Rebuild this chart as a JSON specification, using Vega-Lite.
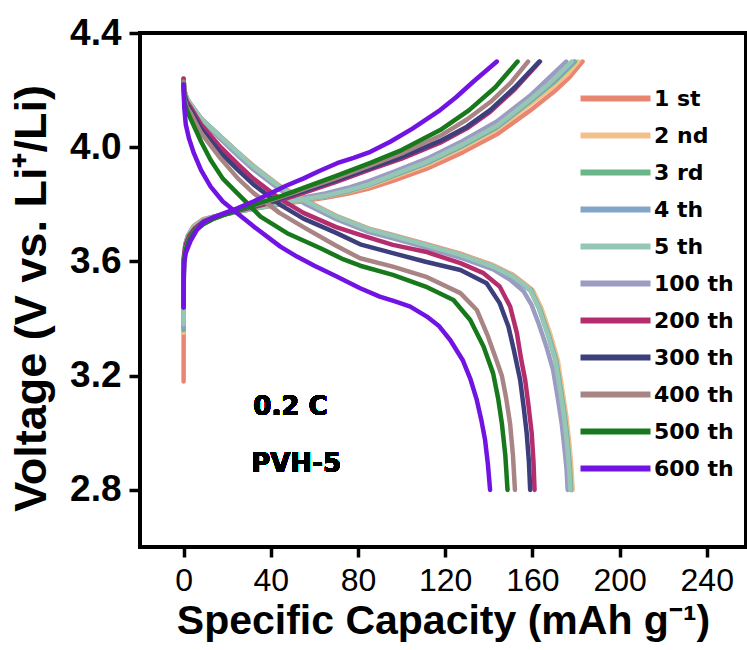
{
  "$schema": "https://vega.github.io/schema/vega-lite/v6.json",
  "width": 606,
  "height": 514,
  "autosize": {"type": "none"},
  "padding": {"left": 140, "top": 33, "right": 1, "bottom": 103},
  "background": "white",
  "config": {
    "view": {"stroke": "black", "strokeWidth": 4},
    "axis": {"domain": false, "grid": false, "tickColor": "black", "tickWidth": 3.5, "labelColor": "black", "titleColor": "black"}
  },
  "data": {
    "values": [
      {"cycle": "100 th", "curve": "charge", "cap": 0, "v": 3.4}, {"cycle": "100 th", "curve": "charge", "cap": 0.05, "v": 3.53}, {"cycle": "100 th", "curve": "charge", "cap": 0.15, "v": 3.61}, {"cycle": "100 th", "curve": "charge", "cap": 0.8, "v": 3.66}, {"cycle": "100 th", "curve": "charge", "cap": 2, "v": 3.69}, {"cycle": "100 th", "curve": "charge", "cap": 4.7, "v": 3.72}, {"cycle": "100 th", "curve": "charge", "cap": 9, "v": 3.744}, {"cycle": "100 th", "curve": "charge", "cap": 14, "v": 3.757}, {"cycle": "100 th", "curve": "charge", "cap": 20, "v": 3.768}, {"cycle": "100 th", "curve": "charge", "cap": 27, "v": 3.779}, {"cycle": "100 th", "curve": "charge", "cap": 35, "v": 3.793}, {"cycle": "100 th", "curve": "charge", "cap": 45, "v": 3.809}, {"cycle": "100 th", "curve": "charge", "cap": 55, "v": 3.824}, {"cycle": "100 th", "curve": "charge", "cap": 65, "v": 3.838}, {"cycle": "100 th", "curve": "charge", "cap": 75, "v": 3.857}, {"cycle": "100 th", "curve": "charge", "cap": 85, "v": 3.881}, {"cycle": "100 th", "curve": "charge", "cap": 96, "v": 3.913}, {"cycle": "100 th", "curve": "charge", "cap": 111.6, "v": 3.96}, {"cycle": "100 th", "curve": "charge", "cap": 128, "v": 4.022}, {"cycle": "100 th", "curve": "charge", "cap": 143.7, "v": 4.09}, {"cycle": "100 th", "curve": "charge", "cap": 158.9, "v": 4.18}, {"cycle": "100 th", "curve": "charge", "cap": 167, "v": 4.238}, {"cycle": "100 th", "curve": "charge", "cap": 175.5, "v": 4.3},
      {"cycle": "100 th", "curve": "discharge", "cap": 0, "v": 4.24}, {"cycle": "100 th", "curve": "discharge", "cap": 0.3, "v": 4.19}, {"cycle": "100 th", "curve": "discharge", "cap": 1.5, "v": 4.165}, {"cycle": "100 th", "curve": "discharge", "cap": 3.2, "v": 4.145}, {"cycle": "100 th", "curve": "discharge", "cap": 8, "v": 4.093}, {"cycle": "100 th", "curve": "discharge", "cap": 17, "v": 4.028}, {"cycle": "100 th", "curve": "discharge", "cap": 25, "v": 3.97}, {"cycle": "100 th", "curve": "discharge", "cap": 32, "v": 3.922}, {"cycle": "100 th", "curve": "discharge", "cap": 44, "v": 3.852}, {"cycle": "100 th", "curve": "discharge", "cap": 55, "v": 3.805}, {"cycle": "100 th", "curve": "discharge", "cap": 70, "v": 3.748}, {"cycle": "100 th", "curve": "discharge", "cap": 85, "v": 3.703}, {"cycle": "100 th", "curve": "discharge", "cap": 96, "v": 3.681}, {"cycle": "100 th", "curve": "discharge", "cap": 111, "v": 3.649}, {"cycle": "100 th", "curve": "discharge", "cap": 127, "v": 3.613}, {"cycle": "100 th", "curve": "discharge", "cap": 142, "v": 3.572}, {"cycle": "100 th", "curve": "discharge", "cap": 150, "v": 3.535}, {"cycle": "100 th", "curve": "discharge", "cap": 156, "v": 3.495}, {"cycle": "100 th", "curve": "discharge", "cap": 159.5, "v": 3.45}, {"cycle": "100 th", "curve": "discharge", "cap": 163, "v": 3.38}, {"cycle": "100 th", "curve": "discharge", "cap": 166.5, "v": 3.3}, {"cycle": "100 th", "curve": "discharge", "cap": 169.5, "v": 3.22}, {"cycle": "100 th", "curve": "discharge", "cap": 171.7, "v": 3.12}, {"cycle": "100 th", "curve": "discharge", "cap": 173.5, "v": 3.03}, {"cycle": "100 th", "curve": "discharge", "cap": 174.8, "v": 2.94}, {"cycle": "100 th", "curve": "discharge", "cap": 175.7, "v": 2.87}, {"cycle": "100 th", "curve": "discharge", "cap": 176.2, "v": 2.8},

      {"cycle": "1 st", "curve": "charge", "cap": 0, "v": 3.18}, {"cycle": "1 st", "curve": "charge", "cap": 0.05, "v": 3.45}, {"cycle": "1 st", "curve": "charge", "cap": 0.15, "v": 3.6}, {"cycle": "1 st", "curve": "charge", "cap": 0.8, "v": 3.655}, {"cycle": "1 st", "curve": "charge", "cap": 2, "v": 3.69}, {"cycle": "1 st", "curve": "charge", "cap": 4.7, "v": 3.725}, {"cycle": "1 st", "curve": "charge", "cap": 9, "v": 3.748}, {"cycle": "1 st", "curve": "charge", "cap": 14, "v": 3.758}, {"cycle": "1 st", "curve": "charge", "cap": 20, "v": 3.768}, {"cycle": "1 st", "curve": "charge", "cap": 27, "v": 3.777}, {"cycle": "1 st", "curve": "charge", "cap": 35, "v": 3.788}, {"cycle": "1 st", "curve": "charge", "cap": 45, "v": 3.8}, {"cycle": "1 st", "curve": "charge", "cap": 55, "v": 3.812}, {"cycle": "1 st", "curve": "charge", "cap": 65, "v": 3.823}, {"cycle": "1 st", "curve": "charge", "cap": 75, "v": 3.837}, {"cycle": "1 st", "curve": "charge", "cap": 85, "v": 3.855}, {"cycle": "1 st", "curve": "charge", "cap": 96, "v": 3.882}, {"cycle": "1 st", "curve": "charge", "cap": 111.6, "v": 3.925}, {"cycle": "1 st", "curve": "charge", "cap": 128, "v": 3.982}, {"cycle": "1 st", "curve": "charge", "cap": 143.7, "v": 4.045}, {"cycle": "1 st", "curve": "charge", "cap": 158.9, "v": 4.128}, {"cycle": "1 st", "curve": "charge", "cap": 170, "v": 4.195}, {"cycle": "1 st", "curve": "charge", "cap": 177, "v": 4.245}, {"cycle": "1 st", "curve": "charge", "cap": 183, "v": 4.3},
      {"cycle": "1 st", "curve": "discharge", "cap": 0, "v": 4.24}, {"cycle": "1 st", "curve": "discharge", "cap": 0.3, "v": 4.2}, {"cycle": "1 st", "curve": "discharge", "cap": 1.5, "v": 4.17}, {"cycle": "1 st", "curve": "discharge", "cap": 3.2, "v": 4.152}, {"cycle": "1 st", "curve": "discharge", "cap": 8, "v": 4.1}, {"cycle": "1 st", "curve": "discharge", "cap": 17, "v": 4.037}, {"cycle": "1 st", "curve": "discharge", "cap": 25, "v": 3.982}, {"cycle": "1 st", "curve": "discharge", "cap": 32, "v": 3.935}, {"cycle": "1 st", "curve": "discharge", "cap": 44, "v": 3.865}, {"cycle": "1 st", "curve": "discharge", "cap": 55, "v": 3.818}, {"cycle": "1 st", "curve": "discharge", "cap": 70, "v": 3.76}, {"cycle": "1 st", "curve": "discharge", "cap": 85, "v": 3.715}, {"cycle": "1 st", "curve": "discharge", "cap": 96, "v": 3.693}, {"cycle": "1 st", "curve": "discharge", "cap": 111, "v": 3.661}, {"cycle": "1 st", "curve": "discharge", "cap": 127, "v": 3.627}, {"cycle": "1 st", "curve": "discharge", "cap": 142, "v": 3.587}, {"cycle": "1 st", "curve": "discharge", "cap": 151, "v": 3.553}, {"cycle": "1 st", "curve": "discharge", "cap": 157, "v": 3.518}, {"cycle": "1 st", "curve": "discharge", "cap": 160, "v": 3.5}, {"cycle": "1 st", "curve": "discharge", "cap": 164, "v": 3.435}, {"cycle": "1 st", "curve": "discharge", "cap": 168, "v": 3.345}, {"cycle": "1 st", "curve": "discharge", "cap": 171.4, "v": 3.255}, {"cycle": "1 st", "curve": "discharge", "cap": 173.5, "v": 3.15}, {"cycle": "1 st", "curve": "discharge", "cap": 175.3, "v": 3.06}, {"cycle": "1 st", "curve": "discharge", "cap": 176.6, "v": 2.97}, {"cycle": "1 st", "curve": "discharge", "cap": 177.6, "v": 2.88}, {"cycle": "1 st", "curve": "discharge", "cap": 178.2, "v": 2.8},

      {"cycle": "2 nd", "curve": "charge", "cap": 0, "v": 3.35}, {"cycle": "2 nd", "curve": "charge", "cap": 0.05, "v": 3.5}, {"cycle": "2 nd", "curve": "charge", "cap": 0.15, "v": 3.6}, {"cycle": "2 nd", "curve": "charge", "cap": 0.8, "v": 3.658}, {"cycle": "2 nd", "curve": "charge", "cap": 2, "v": 3.69}, {"cycle": "2 nd", "curve": "charge", "cap": 4.7, "v": 3.724}, {"cycle": "2 nd", "curve": "charge", "cap": 9, "v": 3.747}, {"cycle": "2 nd", "curve": "charge", "cap": 14, "v": 3.758}, {"cycle": "2 nd", "curve": "charge", "cap": 20, "v": 3.768}, {"cycle": "2 nd", "curve": "charge", "cap": 27, "v": 3.778}, {"cycle": "2 nd", "curve": "charge", "cap": 35, "v": 3.789}, {"cycle": "2 nd", "curve": "charge", "cap": 45, "v": 3.802}, {"cycle": "2 nd", "curve": "charge", "cap": 55, "v": 3.815}, {"cycle": "2 nd", "curve": "charge", "cap": 65, "v": 3.827}, {"cycle": "2 nd", "curve": "charge", "cap": 75, "v": 3.843}, {"cycle": "2 nd", "curve": "charge", "cap": 85, "v": 3.864}, {"cycle": "2 nd", "curve": "charge", "cap": 96, "v": 3.894}, {"cycle": "2 nd", "curve": "charge", "cap": 111.6, "v": 3.938}, {"cycle": "2 nd", "curve": "charge", "cap": 128, "v": 3.997}, {"cycle": "2 nd", "curve": "charge", "cap": 143.7, "v": 4.062}, {"cycle": "2 nd", "curve": "charge", "cap": 158.9, "v": 4.15}, {"cycle": "2 nd", "curve": "charge", "cap": 170, "v": 4.215}, {"cycle": "2 nd", "curve": "charge", "cap": 176, "v": 4.255}, {"cycle": "2 nd", "curve": "charge", "cap": 181, "v": 4.3},
      {"cycle": "2 nd", "curve": "discharge", "cap": 0, "v": 4.24}, {"cycle": "2 nd", "curve": "discharge", "cap": 0.3, "v": 4.2}, {"cycle": "2 nd", "curve": "discharge", "cap": 1.5, "v": 4.17}, {"cycle": "2 nd", "curve": "discharge", "cap": 3.2, "v": 4.151}, {"cycle": "2 nd", "curve": "discharge", "cap": 8, "v": 4.1}, {"cycle": "2 nd", "curve": "discharge", "cap": 17, "v": 4.037}, {"cycle": "2 nd", "curve": "discharge", "cap": 25, "v": 3.981}, {"cycle": "2 nd", "curve": "discharge", "cap": 32, "v": 3.933}, {"cycle": "2 nd", "curve": "discharge", "cap": 44, "v": 3.863}, {"cycle": "2 nd", "curve": "discharge", "cap": 55, "v": 3.816}, {"cycle": "2 nd", "curve": "discharge", "cap": 70, "v": 3.758}, {"cycle": "2 nd", "curve": "discharge", "cap": 85, "v": 3.713}, {"cycle": "2 nd", "curve": "discharge", "cap": 96, "v": 3.691}, {"cycle": "2 nd", "curve": "discharge", "cap": 111, "v": 3.659}, {"cycle": "2 nd", "curve": "discharge", "cap": 127, "v": 3.625}, {"cycle": "2 nd", "curve": "discharge", "cap": 142, "v": 3.585}, {"cycle": "2 nd", "curve": "discharge", "cap": 151, "v": 3.551}, {"cycle": "2 nd", "curve": "discharge", "cap": 157, "v": 3.516}, {"cycle": "2 nd", "curve": "discharge", "cap": 160.2, "v": 3.498}, {"cycle": "2 nd", "curve": "discharge", "cap": 164.3, "v": 3.433}, {"cycle": "2 nd", "curve": "discharge", "cap": 168.3, "v": 3.343}, {"cycle": "2 nd", "curve": "discharge", "cap": 171.7, "v": 3.253}, {"cycle": "2 nd", "curve": "discharge", "cap": 173.8, "v": 3.148}, {"cycle": "2 nd", "curve": "discharge", "cap": 175.6, "v": 3.058}, {"cycle": "2 nd", "curve": "discharge", "cap": 176.9, "v": 2.968}, {"cycle": "2 nd", "curve": "discharge", "cap": 177.9, "v": 2.878}, {"cycle": "2 nd", "curve": "discharge", "cap": 178.5, "v": 2.8},

      {"cycle": "3 rd", "curve": "charge", "cap": 0, "v": 3.36}, {"cycle": "3 rd", "curve": "charge", "cap": 0.05, "v": 3.5}, {"cycle": "3 rd", "curve": "charge", "cap": 0.15, "v": 3.6}, {"cycle": "3 rd", "curve": "charge", "cap": 0.8, "v": 3.659}, {"cycle": "3 rd", "curve": "charge", "cap": 2, "v": 3.69}, {"cycle": "3 rd", "curve": "charge", "cap": 4.7, "v": 3.723}, {"cycle": "3 rd", "curve": "charge", "cap": 9, "v": 3.746}, {"cycle": "3 rd", "curve": "charge", "cap": 14, "v": 3.757}, {"cycle": "3 rd", "curve": "charge", "cap": 20, "v": 3.767}, {"cycle": "3 rd", "curve": "charge", "cap": 27, "v": 3.777}, {"cycle": "3 rd", "curve": "charge", "cap": 35, "v": 3.789}, {"cycle": "3 rd", "curve": "charge", "cap": 45, "v": 3.803}, {"cycle": "3 rd", "curve": "charge", "cap": 55, "v": 3.816}, {"cycle": "3 rd", "curve": "charge", "cap": 65, "v": 3.828}, {"cycle": "3 rd", "curve": "charge", "cap": 75, "v": 3.845}, {"cycle": "3 rd", "curve": "charge", "cap": 85, "v": 3.867}, {"cycle": "3 rd", "curve": "charge", "cap": 96, "v": 3.899}, {"cycle": "3 rd", "curve": "charge", "cap": 111.6, "v": 3.944}, {"cycle": "3 rd", "curve": "charge", "cap": 128, "v": 4.004}, {"cycle": "3 rd", "curve": "charge", "cap": 143.7, "v": 4.069}, {"cycle": "3 rd", "curve": "charge", "cap": 158.9, "v": 4.159}, {"cycle": "3 rd", "curve": "charge", "cap": 170, "v": 4.228}, {"cycle": "3 rd", "curve": "charge", "cap": 179.5, "v": 4.3},
      {"cycle": "3 rd", "curve": "discharge", "cap": 0, "v": 4.24}, {"cycle": "3 rd", "curve": "discharge", "cap": 0.3, "v": 4.2}, {"cycle": "3 rd", "curve": "discharge", "cap": 1.5, "v": 4.17}, {"cycle": "3 rd", "curve": "discharge", "cap": 3.2, "v": 4.15}, {"cycle": "3 rd", "curve": "discharge", "cap": 8, "v": 4.1}, {"cycle": "3 rd", "curve": "discharge", "cap": 17, "v": 4.037}, {"cycle": "3 rd", "curve": "discharge", "cap": 25, "v": 3.98}, {"cycle": "3 rd", "curve": "discharge", "cap": 32, "v": 3.932}, {"cycle": "3 rd", "curve": "discharge", "cap": 44, "v": 3.862}, {"cycle": "3 rd", "curve": "discharge", "cap": 55, "v": 3.815}, {"cycle": "3 rd", "curve": "discharge", "cap": 70, "v": 3.757}, {"cycle": "3 rd", "curve": "discharge", "cap": 85, "v": 3.712}, {"cycle": "3 rd", "curve": "discharge", "cap": 96, "v": 3.69}, {"cycle": "3 rd", "curve": "discharge", "cap": 111, "v": 3.658}, {"cycle": "3 rd", "curve": "discharge", "cap": 127, "v": 3.623}, {"cycle": "3 rd", "curve": "discharge", "cap": 142, "v": 3.583}, {"cycle": "3 rd", "curve": "discharge", "cap": 151, "v": 3.548}, {"cycle": "3 rd", "curve": "discharge", "cap": 157, "v": 3.512}, {"cycle": "3 rd", "curve": "discharge", "cap": 159.4, "v": 3.5}, {"cycle": "3 rd", "curve": "discharge", "cap": 163.4, "v": 3.435}, {"cycle": "3 rd", "curve": "discharge", "cap": 167.4, "v": 3.345}, {"cycle": "3 rd", "curve": "discharge", "cap": 170.9, "v": 3.255}, {"cycle": "3 rd", "curve": "discharge", "cap": 173.1, "v": 3.15}, {"cycle": "3 rd", "curve": "discharge", "cap": 174.9, "v": 3.06}, {"cycle": "3 rd", "curve": "discharge", "cap": 176.2, "v": 2.97}, {"cycle": "3 rd", "curve": "discharge", "cap": 177.2, "v": 2.88}, {"cycle": "3 rd", "curve": "discharge", "cap": 177.8, "v": 2.8},

      {"cycle": "4 th", "curve": "charge", "cap": 0, "v": 3.37}, {"cycle": "4 th", "curve": "charge", "cap": 0.05, "v": 3.5}, {"cycle": "4 th", "curve": "charge", "cap": 0.15, "v": 3.6}, {"cycle": "4 th", "curve": "charge", "cap": 0.8, "v": 3.66}, {"cycle": "4 th", "curve": "charge", "cap": 2, "v": 3.69}, {"cycle": "4 th", "curve": "charge", "cap": 4.7, "v": 3.722}, {"cycle": "4 th", "curve": "charge", "cap": 9, "v": 3.745}, {"cycle": "4 th", "curve": "charge", "cap": 14, "v": 3.757}, {"cycle": "4 th", "curve": "charge", "cap": 20, "v": 3.767}, {"cycle": "4 th", "curve": "charge", "cap": 27, "v": 3.777}, {"cycle": "4 th", "curve": "charge", "cap": 35, "v": 3.79}, {"cycle": "4 th", "curve": "charge", "cap": 45, "v": 3.804}, {"cycle": "4 th", "curve": "charge", "cap": 55, "v": 3.817}, {"cycle": "4 th", "curve": "charge", "cap": 65, "v": 3.829}, {"cycle": "4 th", "curve": "charge", "cap": 75, "v": 3.847}, {"cycle": "4 th", "curve": "charge", "cap": 85, "v": 3.869}, {"cycle": "4 th", "curve": "charge", "cap": 96, "v": 3.902}, {"cycle": "4 th", "curve": "charge", "cap": 111.6, "v": 3.947}, {"cycle": "4 th", "curve": "charge", "cap": 128, "v": 4.008}, {"cycle": "4 th", "curve": "charge", "cap": 143.7, "v": 4.073}, {"cycle": "4 th", "curve": "charge", "cap": 158.9, "v": 4.163}, {"cycle": "4 th", "curve": "charge", "cap": 170, "v": 4.233}, {"cycle": "4 th", "curve": "charge", "cap": 179, "v": 4.3},
      {"cycle": "4 th", "curve": "discharge", "cap": 0, "v": 4.24}, {"cycle": "4 th", "curve": "discharge", "cap": 0.3, "v": 4.2}, {"cycle": "4 th", "curve": "discharge", "cap": 1.5, "v": 4.17}, {"cycle": "4 th", "curve": "discharge", "cap": 3.2, "v": 4.15}, {"cycle": "4 th", "curve": "discharge", "cap": 8, "v": 4.1}, {"cycle": "4 th", "curve": "discharge", "cap": 17, "v": 4.036}, {"cycle": "4 th", "curve": "discharge", "cap": 25, "v": 3.979}, {"cycle": "4 th", "curve": "discharge", "cap": 32, "v": 3.931}, {"cycle": "4 th", "curve": "discharge", "cap": 44, "v": 3.861}, {"cycle": "4 th", "curve": "discharge", "cap": 55, "v": 3.814}, {"cycle": "4 th", "curve": "discharge", "cap": 70, "v": 3.756}, {"cycle": "4 th", "curve": "discharge", "cap": 85, "v": 3.711}, {"cycle": "4 th", "curve": "discharge", "cap": 96, "v": 3.689}, {"cycle": "4 th", "curve": "discharge", "cap": 111, "v": 3.657}, {"cycle": "4 th", "curve": "discharge", "cap": 127, "v": 3.622}, {"cycle": "4 th", "curve": "discharge", "cap": 142, "v": 3.581}, {"cycle": "4 th", "curve": "discharge", "cap": 151, "v": 3.546}, {"cycle": "4 th", "curve": "discharge", "cap": 157, "v": 3.51}, {"cycle": "4 th", "curve": "discharge", "cap": 159.2, "v": 3.498}, {"cycle": "4 th", "curve": "discharge", "cap": 163.2, "v": 3.433}, {"cycle": "4 th", "curve": "discharge", "cap": 167.2, "v": 3.343}, {"cycle": "4 th", "curve": "discharge", "cap": 170.7, "v": 3.253}, {"cycle": "4 th", "curve": "discharge", "cap": 172.9, "v": 3.148}, {"cycle": "4 th", "curve": "discharge", "cap": 174.7, "v": 3.058}, {"cycle": "4 th", "curve": "discharge", "cap": 176, "v": 2.968}, {"cycle": "4 th", "curve": "discharge", "cap": 177, "v": 2.878}, {"cycle": "4 th", "curve": "discharge", "cap": 177.5, "v": 2.8},

      {"cycle": "5 th", "curve": "charge", "cap": 0, "v": 3.38}, {"cycle": "5 th", "curve": "charge", "cap": 0.05, "v": 3.52}, {"cycle": "5 th", "curve": "charge", "cap": 0.15, "v": 3.61}, {"cycle": "5 th", "curve": "charge", "cap": 0.8, "v": 3.66}, {"cycle": "5 th", "curve": "charge", "cap": 2, "v": 3.69}, {"cycle": "5 th", "curve": "charge", "cap": 4.7, "v": 3.722}, {"cycle": "5 th", "curve": "charge", "cap": 9, "v": 3.745}, {"cycle": "5 th", "curve": "charge", "cap": 14, "v": 3.757}, {"cycle": "5 th", "curve": "charge", "cap": 20, "v": 3.767}, {"cycle": "5 th", "curve": "charge", "cap": 27, "v": 3.777}, {"cycle": "5 th", "curve": "charge", "cap": 35, "v": 3.79}, {"cycle": "5 th", "curve": "charge", "cap": 45, "v": 3.805}, {"cycle": "5 th", "curve": "charge", "cap": 55, "v": 3.818}, {"cycle": "5 th", "curve": "charge", "cap": 65, "v": 3.83}, {"cycle": "5 th", "curve": "charge", "cap": 75, "v": 3.848}, {"cycle": "5 th", "curve": "charge", "cap": 85, "v": 3.87}, {"cycle": "5 th", "curve": "charge", "cap": 96, "v": 3.903}, {"cycle": "5 th", "curve": "charge", "cap": 111.6, "v": 3.949}, {"cycle": "5 th", "curve": "charge", "cap": 128, "v": 4.01}, {"cycle": "5 th", "curve": "charge", "cap": 143.7, "v": 4.075}, {"cycle": "5 th", "curve": "charge", "cap": 158.9, "v": 4.166}, {"cycle": "5 th", "curve": "charge", "cap": 168, "v": 4.225}, {"cycle": "5 th", "curve": "charge", "cap": 178, "v": 4.3},
      {"cycle": "5 th", "curve": "discharge", "cap": 0, "v": 4.24}, {"cycle": "5 th", "curve": "discharge", "cap": 0.3, "v": 4.2}, {"cycle": "5 th", "curve": "discharge", "cap": 1.5, "v": 4.17}, {"cycle": "5 th", "curve": "discharge", "cap": 3.2, "v": 4.15}, {"cycle": "5 th", "curve": "discharge", "cap": 8, "v": 4.1}, {"cycle": "5 th", "curve": "discharge", "cap": 17, "v": 4.037}, {"cycle": "5 th", "curve": "discharge", "cap": 25, "v": 3.98}, {"cycle": "5 th", "curve": "discharge", "cap": 32, "v": 3.932}, {"cycle": "5 th", "curve": "discharge", "cap": 44, "v": 3.862}, {"cycle": "5 th", "curve": "discharge", "cap": 55, "v": 3.815}, {"cycle": "5 th", "curve": "discharge", "cap": 70, "v": 3.757}, {"cycle": "5 th", "curve": "discharge", "cap": 85, "v": 3.712}, {"cycle": "5 th", "curve": "discharge", "cap": 96, "v": 3.69}, {"cycle": "5 th", "curve": "discharge", "cap": 111, "v": 3.658}, {"cycle": "5 th", "curve": "discharge", "cap": 127, "v": 3.623}, {"cycle": "5 th", "curve": "discharge", "cap": 142, "v": 3.582}, {"cycle": "5 th", "curve": "discharge", "cap": 151, "v": 3.547}, {"cycle": "5 th", "curve": "discharge", "cap": 156, "v": 3.52}, {"cycle": "5 th", "curve": "discharge", "cap": 159, "v": 3.5}, {"cycle": "5 th", "curve": "discharge", "cap": 163, "v": 3.435}, {"cycle": "5 th", "curve": "discharge", "cap": 167, "v": 3.345}, {"cycle": "5 th", "curve": "discharge", "cap": 170.5, "v": 3.255}, {"cycle": "5 th", "curve": "discharge", "cap": 172.7, "v": 3.15}, {"cycle": "5 th", "curve": "discharge", "cap": 174.5, "v": 3.06}, {"cycle": "5 th", "curve": "discharge", "cap": 175.8, "v": 2.97}, {"cycle": "5 th", "curve": "discharge", "cap": 176.8, "v": 2.88}, {"cycle": "5 th", "curve": "discharge", "cap": 177.4, "v": 2.8},

      {"cycle": "200 th", "curve": "charge", "cap": 0, "v": 3.44}, {"cycle": "200 th", "curve": "charge", "cap": 0.05, "v": 3.56}, {"cycle": "200 th", "curve": "charge", "cap": 0.15, "v": 3.62}, {"cycle": "200 th", "curve": "charge", "cap": 1, "v": 3.66}, {"cycle": "200 th", "curve": "charge", "cap": 2.5, "v": 3.69}, {"cycle": "200 th", "curve": "charge", "cap": 5, "v": 3.715}, {"cycle": "200 th", "curve": "charge", "cap": 9, "v": 3.74}, {"cycle": "200 th", "curve": "charge", "cap": 14, "v": 3.755}, {"cycle": "200 th", "curve": "charge", "cap": 20, "v": 3.768}, {"cycle": "200 th", "curve": "charge", "cap": 27, "v": 3.781}, {"cycle": "200 th", "curve": "charge", "cap": 35, "v": 3.796}, {"cycle": "200 th", "curve": "charge", "cap": 45, "v": 3.816}, {"cycle": "200 th", "curve": "charge", "cap": 55, "v": 3.84}, {"cycle": "200 th", "curve": "charge", "cap": 70, "v": 3.879}, {"cycle": "200 th", "curve": "charge", "cap": 85.7, "v": 3.922}, {"cycle": "200 th", "curve": "charge", "cap": 100, "v": 3.96}, {"cycle": "200 th", "curve": "charge", "cap": 117.7, "v": 4.016}, {"cycle": "200 th", "curve": "charge", "cap": 130, "v": 4.066}, {"cycle": "200 th", "curve": "charge", "cap": 140.6, "v": 4.124}, {"cycle": "200 th", "curve": "charge", "cap": 152, "v": 4.204}, {"cycle": "200 th", "curve": "charge", "cap": 163.5, "v": 4.3},
      {"cycle": "200 th", "curve": "discharge", "cap": 0, "v": 4.24}, {"cycle": "200 th", "curve": "discharge", "cap": 0.3, "v": 4.19}, {"cycle": "200 th", "curve": "discharge", "cap": 1.5, "v": 4.16}, {"cycle": "200 th", "curve": "discharge", "cap": 3.2, "v": 4.14}, {"cycle": "200 th", "curve": "discharge", "cap": 8, "v": 4.08}, {"cycle": "200 th", "curve": "discharge", "cap": 17, "v": 4.0}, {"cycle": "200 th", "curve": "discharge", "cap": 25, "v": 3.94}, {"cycle": "200 th", "curve": "discharge", "cap": 32, "v": 3.89}, {"cycle": "200 th", "curve": "discharge", "cap": 44, "v": 3.82}, {"cycle": "200 th", "curve": "discharge", "cap": 55, "v": 3.77}, {"cycle": "200 th", "curve": "discharge", "cap": 70, "v": 3.72}, {"cycle": "200 th", "curve": "discharge", "cap": 81, "v": 3.693}, {"cycle": "200 th", "curve": "discharge", "cap": 96, "v": 3.658}, {"cycle": "200 th", "curve": "discharge", "cap": 111, "v": 3.634}, {"cycle": "200 th", "curve": "discharge", "cap": 127, "v": 3.594}, {"cycle": "200 th", "curve": "discharge", "cap": 137.6, "v": 3.559}, {"cycle": "200 th", "curve": "discharge", "cap": 145, "v": 3.512}, {"cycle": "200 th", "curve": "discharge", "cap": 149.8, "v": 3.442}, {"cycle": "200 th", "curve": "discharge", "cap": 152.9, "v": 3.349}, {"cycle": "200 th", "curve": "discharge", "cap": 154.8, "v": 3.26}, {"cycle": "200 th", "curve": "discharge", "cap": 156.7, "v": 3.185}, {"cycle": "200 th", "curve": "discharge", "cap": 158.3, "v": 3.09}, {"cycle": "200 th", "curve": "discharge", "cap": 159.7, "v": 2.998}, {"cycle": "200 th", "curve": "discharge", "cap": 160.5, "v": 2.9}, {"cycle": "200 th", "curve": "discharge", "cap": 161, "v": 2.8},

      {"cycle": "300 th", "curve": "charge", "cap": 0, "v": 3.44}, {"cycle": "300 th", "curve": "charge", "cap": 0.05, "v": 3.55}, {"cycle": "300 th", "curve": "charge", "cap": 0.15, "v": 3.61}, {"cycle": "300 th", "curve": "charge", "cap": 1, "v": 3.65}, {"cycle": "300 th", "curve": "charge", "cap": 2.5, "v": 3.68}, {"cycle": "300 th", "curve": "charge", "cap": 5, "v": 3.71}, {"cycle": "300 th", "curve": "charge", "cap": 9, "v": 3.735}, {"cycle": "300 th", "curve": "charge", "cap": 14, "v": 3.752}, {"cycle": "300 th", "curve": "charge", "cap": 20, "v": 3.768}, {"cycle": "300 th", "curve": "charge", "cap": 27, "v": 3.783}, {"cycle": "300 th", "curve": "charge", "cap": 35, "v": 3.8}, {"cycle": "300 th", "curve": "charge", "cap": 45, "v": 3.822}, {"cycle": "300 th", "curve": "charge", "cap": 55, "v": 3.846}, {"cycle": "300 th", "curve": "charge", "cap": 70, "v": 3.885}, {"cycle": "300 th", "curve": "charge", "cap": 85.7, "v": 3.928}, {"cycle": "300 th", "curve": "charge", "cap": 100, "v": 3.966}, {"cycle": "300 th", "curve": "charge", "cap": 117.7, "v": 4.022}, {"cycle": "300 th", "curve": "charge", "cap": 130, "v": 4.072}, {"cycle": "300 th", "curve": "charge", "cap": 140.6, "v": 4.13}, {"cycle": "300 th", "curve": "charge", "cap": 152, "v": 4.21}, {"cycle": "300 th", "curve": "charge", "cap": 163.2, "v": 4.3},
      {"cycle": "300 th", "curve": "discharge", "cap": 0, "v": 4.23}, {"cycle": "300 th", "curve": "discharge", "cap": 0.3, "v": 4.18}, {"cycle": "300 th", "curve": "discharge", "cap": 1.5, "v": 4.15}, {"cycle": "300 th", "curve": "discharge", "cap": 3.2, "v": 4.13}, {"cycle": "300 th", "curve": "discharge", "cap": 8, "v": 4.065}, {"cycle": "300 th", "curve": "discharge", "cap": 17, "v": 3.98}, {"cycle": "300 th", "curve": "discharge", "cap": 25, "v": 3.92}, {"cycle": "300 th", "curve": "discharge", "cap": 32, "v": 3.87}, {"cycle": "300 th", "curve": "discharge", "cap": 44, "v": 3.8}, {"cycle": "300 th", "curve": "discharge", "cap": 55, "v": 3.75}, {"cycle": "300 th", "curve": "discharge", "cap": 70, "v": 3.7}, {"cycle": "300 th", "curve": "discharge", "cap": 81, "v": 3.66}, {"cycle": "300 th", "curve": "discharge", "cap": 96, "v": 3.629}, {"cycle": "300 th", "curve": "discharge", "cap": 111, "v": 3.599}, {"cycle": "300 th", "curve": "discharge", "cap": 127, "v": 3.57}, {"cycle": "300 th", "curve": "discharge", "cap": 139, "v": 3.524}, {"cycle": "300 th", "curve": "discharge", "cap": 145, "v": 3.454}, {"cycle": "300 th", "curve": "discharge", "cap": 149, "v": 3.372}, {"cycle": "300 th", "curve": "discharge", "cap": 151.5, "v": 3.29}, {"cycle": "300 th", "curve": "discharge", "cap": 154.4, "v": 3.185}, {"cycle": "300 th", "curve": "discharge", "cap": 156, "v": 3.09}, {"cycle": "300 th", "curve": "discharge", "cap": 157.4, "v": 2.998}, {"cycle": "300 th", "curve": "discharge", "cap": 158.4, "v": 2.9}, {"cycle": "300 th", "curve": "discharge", "cap": 159, "v": 2.8},

      {"cycle": "400 th", "curve": "charge", "cap": 0, "v": 3.44}, {"cycle": "400 th", "curve": "charge", "cap": 0.05, "v": 3.55}, {"cycle": "400 th", "curve": "charge", "cap": 0.15, "v": 3.605}, {"cycle": "400 th", "curve": "charge", "cap": 1, "v": 3.645}, {"cycle": "400 th", "curve": "charge", "cap": 2.5, "v": 3.678}, {"cycle": "400 th", "curve": "charge", "cap": 5, "v": 3.707}, {"cycle": "400 th", "curve": "charge", "cap": 9, "v": 3.732}, {"cycle": "400 th", "curve": "charge", "cap": 14, "v": 3.751}, {"cycle": "400 th", "curve": "charge", "cap": 20, "v": 3.767}, {"cycle": "400 th", "curve": "charge", "cap": 27, "v": 3.784}, {"cycle": "400 th", "curve": "charge", "cap": 35, "v": 3.802}, {"cycle": "400 th", "curve": "charge", "cap": 45, "v": 3.826}, {"cycle": "400 th", "curve": "charge", "cap": 55, "v": 3.852}, {"cycle": "400 th", "curve": "charge", "cap": 70, "v": 3.892}, {"cycle": "400 th", "curve": "charge", "cap": 85.7, "v": 3.936}, {"cycle": "400 th", "curve": "charge", "cap": 100, "v": 3.978}, {"cycle": "400 th", "curve": "charge", "cap": 117.7, "v": 4.04}, {"cycle": "400 th", "curve": "charge", "cap": 130, "v": 4.097}, {"cycle": "400 th", "curve": "charge", "cap": 141, "v": 4.16}, {"cycle": "400 th", "curve": "charge", "cap": 150, "v": 4.225}, {"cycle": "400 th", "curve": "charge", "cap": 158, "v": 4.3},
      {"cycle": "400 th", "curve": "discharge", "cap": 0, "v": 4.23}, {"cycle": "400 th", "curve": "discharge", "cap": 0.3, "v": 4.17}, {"cycle": "400 th", "curve": "discharge", "cap": 1.5, "v": 4.14}, {"cycle": "400 th", "curve": "discharge", "cap": 3.2, "v": 4.12}, {"cycle": "400 th", "curve": "discharge", "cap": 8, "v": 4.05}, {"cycle": "400 th", "curve": "discharge", "cap": 17, "v": 3.96}, {"cycle": "400 th", "curve": "discharge", "cap": 25, "v": 3.89}, {"cycle": "400 th", "curve": "discharge", "cap": 32, "v": 3.84}, {"cycle": "400 th", "curve": "discharge", "cap": 44, "v": 3.77}, {"cycle": "400 th", "curve": "discharge", "cap": 55, "v": 3.72}, {"cycle": "400 th", "curve": "discharge", "cap": 70, "v": 3.655}, {"cycle": "400 th", "curve": "discharge", "cap": 81, "v": 3.611}, {"cycle": "400 th", "curve": "discharge", "cap": 96, "v": 3.582}, {"cycle": "400 th", "curve": "discharge", "cap": 111, "v": 3.547}, {"cycle": "400 th", "curve": "discharge", "cap": 127, "v": 3.489}, {"cycle": "400 th", "curve": "discharge", "cap": 134.5, "v": 3.43}, {"cycle": "400 th", "curve": "discharge", "cap": 139.5, "v": 3.34}, {"cycle": "400 th", "curve": "discharge", "cap": 143, "v": 3.265}, {"cycle": "400 th", "curve": "discharge", "cap": 146, "v": 3.2}, {"cycle": "400 th", "curve": "discharge", "cap": 148, "v": 3.12}, {"cycle": "400 th", "curve": "discharge", "cap": 149.8, "v": 3.03}, {"cycle": "400 th", "curve": "discharge", "cap": 151.1, "v": 2.92}, {"cycle": "400 th", "curve": "discharge", "cap": 152, "v": 2.8},

      {"cycle": "500 th", "curve": "charge", "cap": 0, "v": 3.44}, {"cycle": "500 th", "curve": "charge", "cap": 0.05, "v": 3.55}, {"cycle": "500 th", "curve": "charge", "cap": 0.15, "v": 3.6}, {"cycle": "500 th", "curve": "charge", "cap": 1, "v": 3.64}, {"cycle": "500 th", "curve": "charge", "cap": 2.5, "v": 3.675}, {"cycle": "500 th", "curve": "charge", "cap": 5, "v": 3.705}, {"cycle": "500 th", "curve": "charge", "cap": 9, "v": 3.73}, {"cycle": "500 th", "curve": "charge", "cap": 14, "v": 3.75}, {"cycle": "500 th", "curve": "charge", "cap": 20, "v": 3.767}, {"cycle": "500 th", "curve": "charge", "cap": 27, "v": 3.785}, {"cycle": "500 th", "curve": "charge", "cap": 35, "v": 3.805}, {"cycle": "500 th", "curve": "charge", "cap": 45, "v": 3.83}, {"cycle": "500 th", "curve": "charge", "cap": 55, "v": 3.858}, {"cycle": "500 th", "curve": "charge", "cap": 70, "v": 3.9}, {"cycle": "500 th", "curve": "charge", "cap": 85.7, "v": 3.945}, {"cycle": "500 th", "curve": "charge", "cap": 100, "v": 3.99}, {"cycle": "500 th", "curve": "charge", "cap": 117.7, "v": 4.06}, {"cycle": "500 th", "curve": "charge", "cap": 131, "v": 4.13}, {"cycle": "500 th", "curve": "charge", "cap": 143, "v": 4.21}, {"cycle": "500 th", "curve": "charge", "cap": 153.2, "v": 4.3},
      {"cycle": "500 th", "curve": "discharge", "cap": 0, "v": 4.22}, {"cycle": "500 th", "curve": "discharge", "cap": 0.3, "v": 4.16}, {"cycle": "500 th", "curve": "discharge", "cap": 1.5, "v": 4.13}, {"cycle": "500 th", "curve": "discharge", "cap": 3.2, "v": 4.1}, {"cycle": "500 th", "curve": "discharge", "cap": 8, "v": 4.02}, {"cycle": "500 th", "curve": "discharge", "cap": 12.4, "v": 3.955}, {"cycle": "500 th", "curve": "discharge", "cap": 18, "v": 3.89}, {"cycle": "500 th", "curve": "discharge", "cap": 24.6, "v": 3.839}, {"cycle": "500 th", "curve": "discharge", "cap": 35.3, "v": 3.757}, {"cycle": "500 th", "curve": "discharge", "cap": 47.5, "v": 3.699}, {"cycle": "500 th", "curve": "discharge", "cap": 62.8, "v": 3.646}, {"cycle": "500 th", "curve": "discharge", "cap": 73.4, "v": 3.607}, {"cycle": "500 th", "curve": "discharge", "cap": 81, "v": 3.585}, {"cycle": "500 th", "curve": "discharge", "cap": 96, "v": 3.553}, {"cycle": "500 th", "curve": "discharge", "cap": 111, "v": 3.512}, {"cycle": "500 th", "curve": "discharge", "cap": 123.8, "v": 3.465}, {"cycle": "500 th", "curve": "discharge", "cap": 131.5, "v": 3.395}, {"cycle": "500 th", "curve": "discharge", "cap": 137.6, "v": 3.302}, {"cycle": "500 th", "curve": "discharge", "cap": 142, "v": 3.208}, {"cycle": "500 th", "curve": "discharge", "cap": 144.3, "v": 3.12}, {"cycle": "500 th", "curve": "discharge", "cap": 146, "v": 3.033}, {"cycle": "500 th", "curve": "discharge", "cap": 147.6, "v": 2.92}, {"cycle": "500 th", "curve": "discharge", "cap": 148.6, "v": 2.8},

      {"cycle": "600 th", "curve": "charge", "cap": 0, "v": 3.44}, {"cycle": "600 th", "curve": "charge", "cap": 0.05, "v": 3.54}, {"cycle": "600 th", "curve": "charge", "cap": 0.3, "v": 3.595}, {"cycle": "600 th", "curve": "charge", "cap": 1, "v": 3.63}, {"cycle": "600 th", "curve": "charge", "cap": 3.2, "v": 3.672}, {"cycle": "600 th", "curve": "charge", "cap": 6, "v": 3.71}, {"cycle": "600 th", "curve": "charge", "cap": 9.3, "v": 3.738}, {"cycle": "600 th", "curve": "charge", "cap": 13.9, "v": 3.755}, {"cycle": "600 th", "curve": "charge", "cap": 19, "v": 3.77}, {"cycle": "600 th", "curve": "charge", "cap": 24.6, "v": 3.786}, {"cycle": "600 th", "curve": "charge", "cap": 32, "v": 3.81}, {"cycle": "600 th", "curve": "charge", "cap": 39.9, "v": 3.839}, {"cycle": "600 th", "curve": "charge", "cap": 47, "v": 3.865}, {"cycle": "600 th", "curve": "charge", "cap": 55.1, "v": 3.891}, {"cycle": "600 th", "curve": "charge", "cap": 62, "v": 3.916}, {"cycle": "600 th", "curve": "charge", "cap": 70.4, "v": 3.944}, {"cycle": "600 th", "curve": "charge", "cap": 78, "v": 3.963}, {"cycle": "600 th", "curve": "charge", "cap": 85.7, "v": 3.984}, {"cycle": "600 th", "curve": "charge", "cap": 94.8, "v": 4.019}, {"cycle": "600 th", "curve": "charge", "cap": 105, "v": 4.065}, {"cycle": "600 th", "curve": "charge", "cap": 117.7, "v": 4.13}, {"cycle": "600 th", "curve": "charge", "cap": 125, "v": 4.175}, {"cycle": "600 th", "curve": "charge", "cap": 133, "v": 4.23}, {"cycle": "600 th", "curve": "charge", "cap": 143.7, "v": 4.3},
      {"cycle": "600 th", "curve": "discharge", "cap": 0, "v": 4.22}, {"cycle": "600 th", "curve": "discharge", "cap": 0.3, "v": 4.14}, {"cycle": "600 th", "curve": "discharge", "cap": 1, "v": 4.08}, {"cycle": "600 th", "curve": "discharge", "cap": 2.5, "v": 4.03}, {"cycle": "600 th", "curve": "discharge", "cap": 4.7, "v": 3.979}, {"cycle": "600 th", "curve": "discharge", "cap": 8, "v": 3.92}, {"cycle": "600 th", "curve": "discharge", "cap": 12.4, "v": 3.862}, {"cycle": "600 th", "curve": "discharge", "cap": 18, "v": 3.81}, {"cycle": "600 th", "curve": "discharge", "cap": 24.6, "v": 3.769}, {"cycle": "600 th", "curve": "discharge", "cap": 32.2, "v": 3.722}, {"cycle": "600 th", "curve": "discharge", "cap": 44.4, "v": 3.652}, {"cycle": "600 th", "curve": "discharge", "cap": 52, "v": 3.617}, {"cycle": "600 th", "curve": "discharge", "cap": 60, "v": 3.585}, {"cycle": "600 th", "curve": "discharge", "cap": 70, "v": 3.548}, {"cycle": "600 th", "curve": "discharge", "cap": 81, "v": 3.506}, {"cycle": "600 th", "curve": "discharge", "cap": 90, "v": 3.477}, {"cycle": "600 th", "curve": "discharge", "cap": 97, "v": 3.46}, {"cycle": "600 th", "curve": "discharge", "cap": 104, "v": 3.442}, {"cycle": "600 th", "curve": "discharge", "cap": 111.6, "v": 3.407}, {"cycle": "600 th", "curve": "discharge", "cap": 117, "v": 3.375}, {"cycle": "600 th", "curve": "discharge", "cap": 122.3, "v": 3.325}, {"cycle": "600 th", "curve": "discharge", "cap": 128, "v": 3.255}, {"cycle": "600 th", "curve": "discharge", "cap": 131.5, "v": 3.19}, {"cycle": "600 th", "curve": "discharge", "cap": 134.5, "v": 3.115}, {"cycle": "600 th", "curve": "discharge", "cap": 136.7, "v": 3.04}, {"cycle": "600 th", "curve": "discharge", "cap": 138.3, "v": 2.975}, {"cycle": "600 th", "curve": "discharge", "cap": 139.6, "v": 2.89}, {"cycle": "600 th", "curve": "discharge", "cap": 140.6, "v": 2.8}
    ]
  },
  "layer": [
    {
      "mark": {"type": "line", "strokeWidth": 4.5, "strokeJoin": "round", "strokeCap": "round"},
      "encoding": {
        "x": {
          "field": "cap", "type": "quantitative",
          "scale": {"domain": [-20, 258], "nice": false, "zero": false},
          "axis": {
            "values": [0, 40, 80, 120, 160, 200, 240],
            "tickSize": 10, "labelPadding": 8, "labelFlush": false,
            "labelFont": "Liberation Sans", "labelFontSize": 32, "labelFontWeight": "normal",
            "title": "Specific Capacity (mAh g⁻¹)",
            "titleFont": "Liberation Sans", "titleFontSize": 41, "titleFontWeight": "bold",
            "titleBaseline": "alphabetic", "titleY": 86
          }
        },
        "y": {
          "field": "v", "type": "quantitative",
          "scale": {"domain": [2.6, 4.4], "nice": false, "zero": false},
          "axis": {
            "values": [2.8, 3.2, 3.6, 4.0, 4.4], "format": ".1f",
            "tickSize": 11, "labelPadding": 8,
            "labelFont": "Liberation Sans", "labelFontSize": 37, "labelFontWeight": "bold",
            "title": "Voltage (V vs. Li⁺/Li)",
            "titleFont": "Liberation Sans", "titleFontSize": 45, "titleFontWeight": "bold",
            "titleBaseline": "bottom", "titleX": -86, "titleY": 265
          }
        },
        "color": {
          "field": "cycle", "type": "nominal",
          "scale": {
            "domain": ["1 st", "2 nd", "3 rd", "4 th", "5 th", "100 th", "200 th", "300 th", "400 th", "500 th", "600 th"],
            "range": ["#E98672", "#F2C08C", "#6BB58A", "#82A6C8", "#96C6B4", "#9C9CC2", "#B42E6E", "#3D3F7C", "#A98485", "#17791C", "#7113E3"]
          },
          "legend": {
            "orient": "none", "legendX": 455, "legendY": 45, "title": null,
            "symbolType": "M-2,0H2", "symbolSize": 1225, "symbolStrokeWidth": 6,
            "labelFont": "DejaVu Sans", "labelFontWeight": "bold", "labelFontSize": 22,
            "labelColor": "black", "labelOffset": 18, "rowPadding": 4
          }
        },
        "detail": {"field": "curve"}
      }
    },
    {
      "mark": {"type": "text", "text": "0.2 C", "font": "DejaVu Sans", "fontWeight": "bold", "fontSize": 26, "align": "left", "baseline": "middle", "color": "black"},
      "encoding": {"x": {"datum": 32}, "y": {"datum": 3.09}}
    },
    {
      "mark": {"type": "text", "text": "PVH-5", "font": "DejaVu Sans", "fontWeight": "bold", "fontSize": 26, "align": "left", "baseline": "middle", "color": "black"},
      "encoding": {"x": {"datum": 31}, "y": {"datum": 2.89}}
    }
  ]
}
